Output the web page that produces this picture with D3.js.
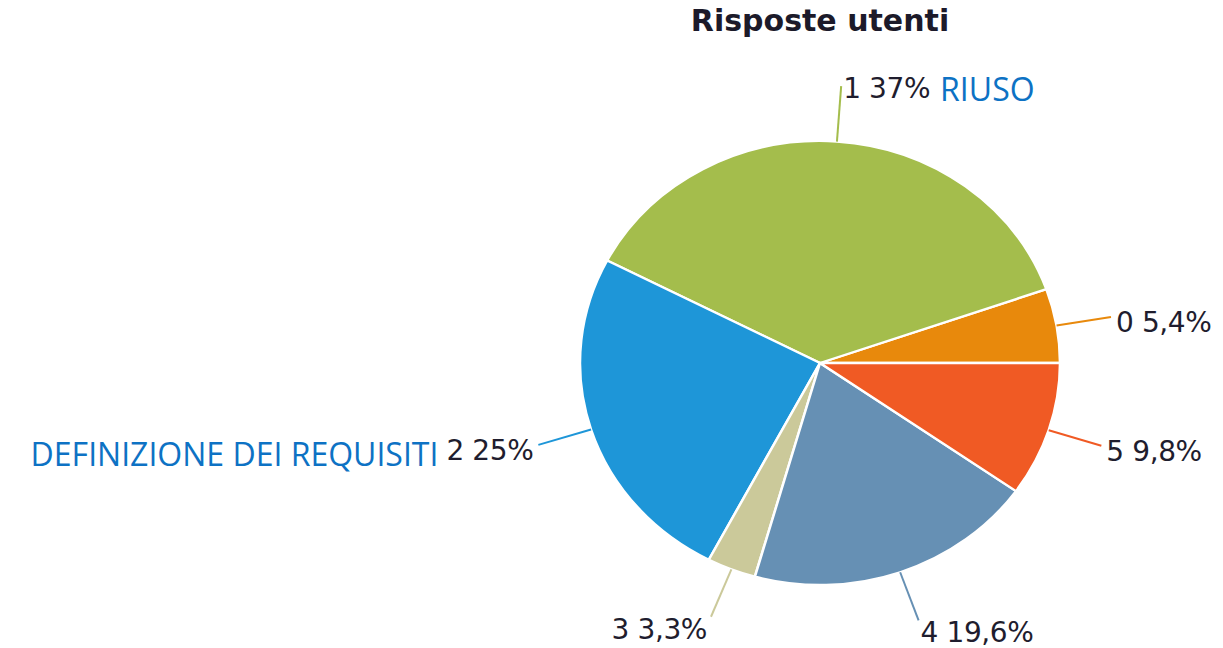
<!DOCTYPE html>
<html>
<head>
<meta charset="utf-8">
<script src="https://cdn.jsdelivr.net/npm/d3@7"></script>
<style>
  body { margin: 0; background: #fff; }
</style>
</head>
<body>
<svg id="mainsvg" width="1223" height="648"></svg>
<script>
const svg = d3.select('#mainsvg');
const width = +svg.attr('width');
const height = +svg.attr('height');

// data
const categories = ['0', '1', '2', '3', '4', '5'];
const values = [5.4, 37, 25, 3.3, 19.6, 9.8];
const valueLabels = ['5,4%', '37%', '25%', '3,3%', '19,6%', '9,8%'];
const colors = ['#e8890c', '#a4bd4c', '#1e96d8', '#cbc99a', '#6690b4', '#f05a24'];
const notes = {'1': 'RIUSO', '2': 'DEFINIZIONE DEI REQUISITI'};

const cx = 820, cy = 363;
const rx = 240, ry = 222;

const data = categories.map((c, i) => ({cat: c, value: values[i], label: valueLabels[i], color: colors[i]}));

// title
svg.append('text')
  .attr('x', cx).attr('y', 31)
  .attr('text-anchor', 'middle')
  .style('font-family', 'DejaVu Sans')
  .style('font-weight', 'bold')
  .style('font-size', '30px')
  .style('fill', '#1c1a2a')
  .text('Risposte utenti');

// pie, counterclockwise from 3 o'clock
const pie = d3.pie()
  .sort(null)
  .value(d => d.value)
  .startAngle(Math.PI / 2)
  .endAngle(Math.PI / 2 - 2 * Math.PI);

const arcs = pie(data);
const arc = d3.arc().innerRadius(0).outerRadius(rx);

const pieGroup = svg.append('g')
  .attr('transform', `translate(${cx}, ${cy}) scale(1, ${ry / rx})`);

pieGroup.selectAll('path')
  .data(arcs)
  .join('path')
  .attr('d', arc)
  .attr('fill', d => d.data.color)
  .attr('stroke', '#fff')
  .attr('stroke-width', 2.5)
  .attr('stroke-linejoin', 'round');

// leader lines + labels
const pt = (a, k) => [cx + rx * k * Math.sin(a), cy - ry * k * Math.cos(a)];

arcs.forEach(d => {
  const a = (d.startAngle + d.endAngle) / 2;
  const p0 = pt(a, 1);
  const p1 = pt(a, d.data.cat === '1' ? 1.25 : 1.23);

  svg.append('line')
    .attr('x1', p0[0]).attr('y1', p0[1])
    .attr('x2', p1[0]).attr('y2', p1[1])
    .attr('stroke', d.data.color)
    .attr('stroke-width', 2);

  const right = p1[0] >= cx;
  let tx, ty;
  if (p1[1] > cy + 200) {
    // bottom labels sit below the line end
    tx = right ? p1[0] + 2 : p1[0] - 4;
    ty = p1[1] + 22;
  } else if (p1[1] < cy - 200) {
    tx = p1[0] + 2;
    ty = p1[1] + 12;
  } else {
    tx = right ? p1[0] + 5 : p1[0] - 5;
    ty = p1[1] + 15;
  }

  const t = svg.append('text')
    .attr('x', tx).attr('y', ty)
    .attr('text-anchor', right ? 'start' : 'end')
    .style('font-family', 'DejaVu Sans')
    .style('font-size', '28px')
    .style('letter-spacing', '-0.4px')
    .style('fill', '#1f1d2e')
    .text(d.data.cat + ' ' + d.data.label);

  // blue notes next to some labels
  const note = notes[d.data.cat];
  if (note) {
    const bb = t.node().getBBox();
    svg.append('text')
      .attr('x', right ? bb.x + bb.width + 10 : bb.x - 8)
      .attr('y', right ? ty + 3 : ty + 6)
      .attr('text-anchor', right ? 'start' : 'end')
      .style('font-family', 'Open Sans')
      .style('font-size', '32px')
      .style('fill', '#0d72c4')
      .text(note);
  }
});
</script>
</body>
</html>
